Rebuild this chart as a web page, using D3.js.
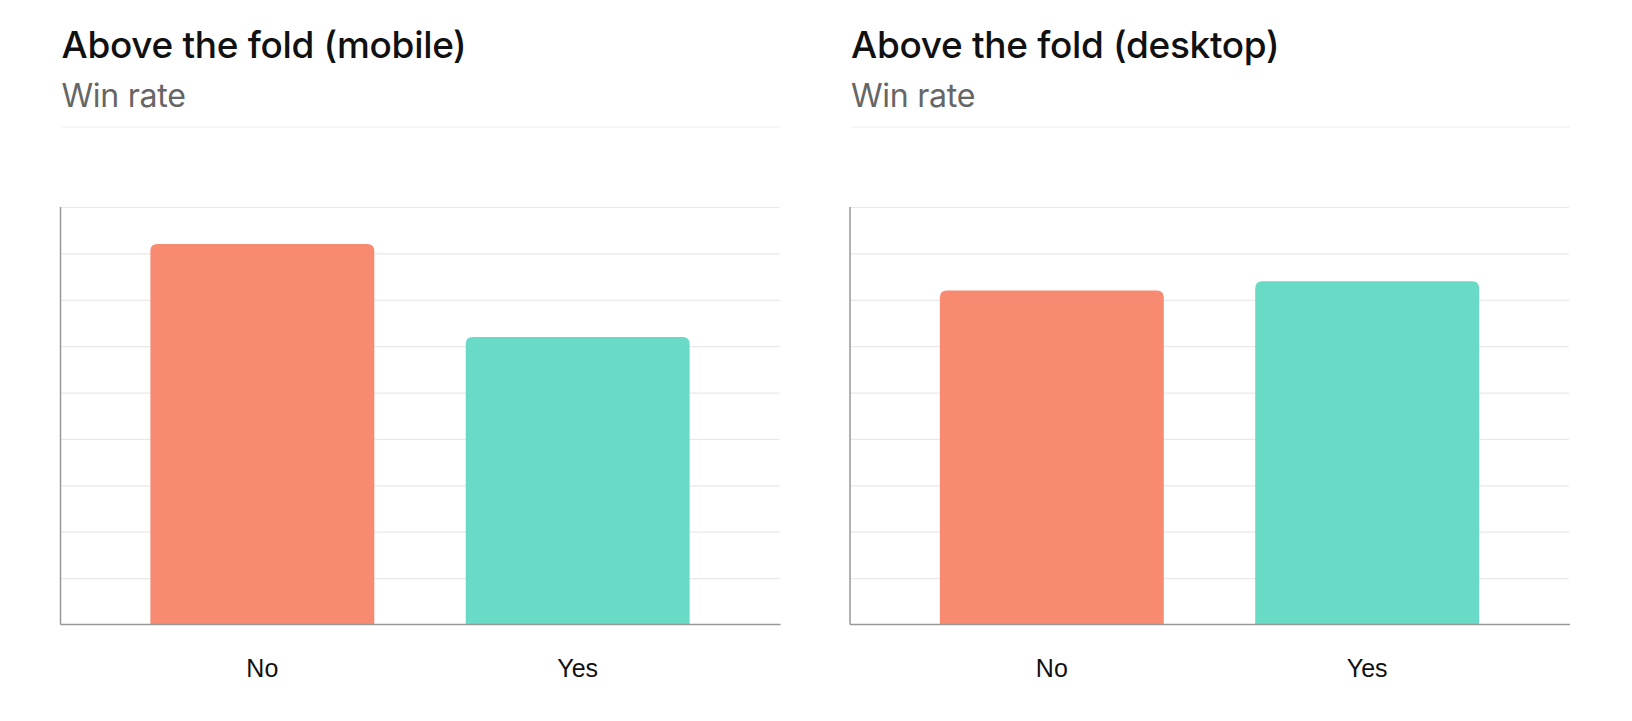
<!DOCTYPE html>
<html>
<head>
<meta charset="utf-8">
<script src="https://cdn.jsdelivr.net/npm/d3@7"></script>
<style>
  html, body { margin: 0; padding: 0; background: #fff; }
  svg { display: block; }
</style>
</head>
<body>
<svg id="chart" width="1632" height="721"></svg>
<script>
// ---- data ----
const panelTitles = ["Above the fold (mobile)", "Above the fold (desktop)"];
const subtitle = "Win rate";
const categories = ["No", "Yes"];
const mobileWinRate = [0.41, 0.31];
const desktopWinRate = [0.36, 0.37];
const gridTicks = [0, 0.05, 0.10, 0.15, 0.20, 0.25, 0.30, 0.35, 0.40, 0.45];
const barColors = ["#F88A72", "#68DAC6"];

const panels = [
  { title: panelTitles[0], values: mobileWinRate, x0: 60.5, x1: 779.5 },
  { title: panelTitles[1], values: desktopWinRate, x0: 850, x1: 1569 }
];

const svg = d3.select("#chart");
const yTop = 207, yBottom = 624.5;

const y = d3.scaleLinear().domain([0, 0.45]).range([yBottom, yTop]);

function topRoundedRect(x, yy, w, h, r) {
  r = Math.min(r, w / 2, h);
  return `M${x},${yy + h}V${yy + r}Q${x},${yy} ${x + r},${yy}H${x + w - r}Q${x + w},${yy} ${x + w},${yy + r}V${yy + h}Z`;
}

const titleFont = "Inter, 'Open Sans', sans-serif";

panels.forEach((p, i) => {
  const g = svg.append("g");

  const t = g.append("text")
    .attr("x", p.x0 + 1)
    .attr("y", 57.5)
    .attr("font-family", titleFont)
    .attr("font-weight", 500)
    .attr("font-size", 32)
    .attr("fill", "#111")
    .attr("letter-spacing", "-0.3")
    .text(p.title);
  p.titleNode = t;

  const s = g.append("text")
    .attr("x", p.x0 + 1)
    .attr("y", 106.5)
    .attr("font-family", titleFont)
    .attr("font-weight", 400)
    .attr("font-size", 30)
    .attr("fill", "#666")
    .attr("letter-spacing", "-0.3")
    .text(subtitle);
  p.subNode = s;

  g.append("line")
    .attr("x1", p.x0 + 1).attr("x2", p.x1 + 1)
    .attr("y1", 127).attr("y2", 127)
    .attr("stroke", "#f0f0f0").attr("stroke-width", 1.2);

  const x = d3.scaleBand()
    .domain(categories)
    .range([p.x0, p.x1])
    .paddingInner(0.29)
    .paddingOuter(0.285);

  const gridAxis = d3.axisLeft(y).tickValues(gridTicks.slice(1))
    .tickSize(-(p.x1 - p.x0)).tickFormat("");
  const gg = g.append("g")
    .attr("transform", `translate(${p.x0},0)`)
    .call(gridAxis);
  gg.select(".domain").remove();
  gg.selectAll(".tick line").attr("stroke", "#e9e9e9").attr("stroke-width", 1.2);

  g.selectAll("path.bar")
    .data(categories.map((c, k) => ({ c, v: p.values[k], k })))
    .join("path")
    .attr("class", "bar")
    .attr("d", d => topRoundedRect(x(d.c), y(d.v), x.bandwidth(), y(0) - y(d.v), 7))
    .attr("fill", d => barColors[d.k]);

  g.append("line")
    .attr("x1", p.x0).attr("x2", p.x0)
    .attr("y1", yTop).attr("y2", yBottom)
    .attr("stroke", "#999").attr("stroke-width", 1.5);

  const xAxis = d3.axisBottom(x).tickSize(0).tickPadding(30);
  const xg = g.append("g")
    .attr("transform", `translate(0,${yBottom})`)
    .call(xAxis);
  xg.select(".domain").attr("stroke", "#999").attr("stroke-width", 1.5)
    .attr("d", `M${p.x0},0H${p.x1 + 1}`);
  xg.selectAll(".tick text")
    .attr("font-family", "'Liberation Sans', Arial, sans-serif")
    .attr("font-size", 25)
    .attr("fill", "#111")
    .attr("dy", "0")
    .attr("y", 52);
});

const tw = panels[0].titleNode.node().getComputedTextLength();
const titleSize = 32 * 404 / tw;
const sw = panels[0].subNode.node().getComputedTextLength();
const subSize = 30 * 124 / sw;
panels.forEach(p => {
  p.titleNode.attr("font-size", titleSize);
  p.subNode.attr("font-size", subSize);
});
</script>
</body>
</html>
